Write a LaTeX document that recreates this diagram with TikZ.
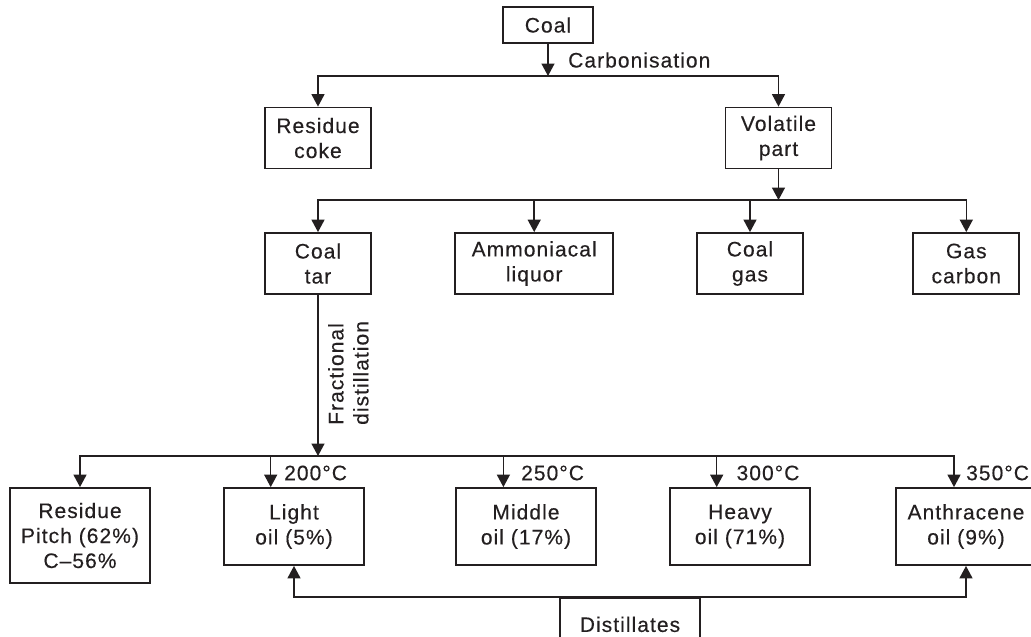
\documentclass[tikz,border=0pt]{standalone}
\usepackage{fontspec}
\setmainfont{Liberation Sans}[LetterSpace=5, FakeBold=0.3]
\usetikzlibrary{arrows.meta}
\definecolor{ink}{RGB}{35,31,32}
\begin{document}
\begin{tikzpicture}[x=1pt,y=-1pt,
  every node/.style={font=\fontsize{21}{25}\selectfont, text=ink},
  box/.style={draw=ink, line width=1.8pt, align=center, inner sep=0pt},
  box2/.style={box, minimum width=106pt, minimum height=61pt},
  box3/.style={box, minimum width=140pt, minimum height=77pt},
  conn/.style={draw=ink, line width=1.5pt},
  arr/.style={conn, -{Triangle[length=12.5pt,width=13pt]}},
  lab/.style={anchor=west, inner sep=0pt}]
\useasboundingbox (0,0) rectangle (1031,637);
\clip (0,0) rectangle (1031,637);

% nodes
\node[box, minimum width=90pt, minimum height=36pt] (coal) at (548,25) {Coal};
\node[box2] (coke) at (318,138) {Residue\\coke};
\node[box2] (vol) at (778.5,138) {Volatile\\part};
\node[box2] (tar) at (318,263.5) {Coal\\tar};
\node[box2, minimum width=158pt] (amm) at (534.2,263.5) {Ammoniacal\\liquor};
\node[box2] (cgas) at (750,263.5) {Coal\\gas};
\node[box2] (gcarb) at (966.3,263.5) {Gas\\carbon};
\node[box, minimum width=140pt, minimum height=95pt] (pitch) at (80,535.5) {Residue\\Pitch (62\%)\\C–56\%};
\node[box3] (light) at (294,526.5) {Light\\oil (5\%)};
\node[box3] (middle) at (526,526.5) {Middle\\oil (17\%)};
\node[box3] (heavy) at (740,526.5) {Heavy\\oil (71\%)};
\node[box3] (anth) at (966,526.5) {Anthracene\\oil (9\%)};
\node[box, anchor=north, minimum width=140pt, minimum height=53pt] (dist) at (630,597) {Distillates};

% labels
\node[lab] (carb) at (568,60) {Carbonisation};
\node[rotate=90, anchor=north west, align=left, inner sep=0pt] (frac) at (328,425) {Fractional\\distillation};
\node[lab] (t200) at (284,473) {200°C};
\node[lab] (t250) at (521,473) {250°C};
\node[lab] (t300) at (736.4,473) {300°C};
\node[lab] (t350) at (966,473) {350°C};

% connectors
\coordinate (j1) at (548,76);
\draw[arr] (coal) -- (j1);
\draw[arr] (j1) -| (coke);
\draw[arr] (j1) -| (vol);

\coordinate (j2) at (778.5,200);
\draw[arr] (vol) -- (j2);
\draw[arr] (j2) -| (tar);
\draw[arr] (j2) -| (gcarb);
\draw[arr] (amm.north |- j2) -- (amm);
\draw[arr] (cgas.north |- j2) -- (cgas);

\coordinate (j3) at (318,456);
\draw[arr] (tar) -- (j3);
\draw[arr] (j3) -| (pitch);
\draw[arr] (j3) -| ([xshift=-12pt]anth.north);
\draw[arr] ([xshift=-23.3pt]light.north |- j3) -- ([xshift=-23.3pt]light.north);
\draw[arr] ([xshift=-22.6pt]middle.north |- j3) -- ([xshift=-22.6pt]middle.north);
\draw[arr] ([xshift=-23.3pt]heavy.north |- j3) -- ([xshift=-23.3pt]heavy.north);

\draw[arr] (dist.north) -| (light);
\draw[arr] (dist.north) -| (anth);
\end{tikzpicture}
\end{document}
